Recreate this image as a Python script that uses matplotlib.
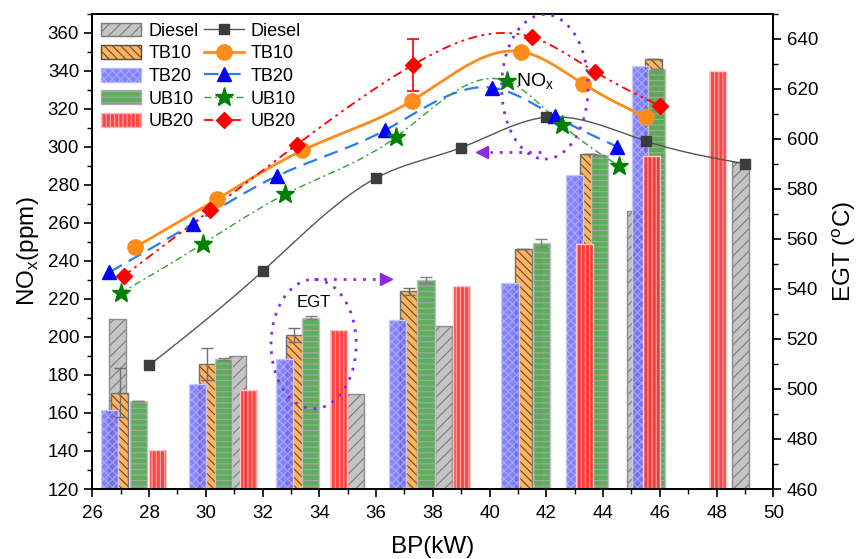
import numpy as np
import matplotlib
matplotlib.use("Agg")
import matplotlib.pyplot as plt
from matplotlib.patches import Patch, Ellipse
from matplotlib.lines import Line2D
from matplotlib.ticker import MultipleLocator

plt.rcParams['font.family'] = ['Liberation Sans', 'DejaVu Sans']
plt.rcParams['hatch.linewidth'] = 0.8

# ---- NOx (left axis), one BP set per fuel ----
bp_diesel = [28, 32, 36, 39, 42, 45.5, 49]
nox_diesel = [185, 234.5, 283.5, 299.5, 315.5, 303, 291]
bp_tb10 = [27.5, 30.4, 33.4, 37.25, 41.1, 43.3, 45.5]
nox_tb10 = [247, 272.5, 298, 324, 350, 333, 315.5]
bp_tb20 = [26.6, 29.55, 32.5, 36.3, 40.1, 42.3, 44.5]
nox_tb20 = [234, 259.5, 284.5, 308.5, 331, 316, 300]
bp_ub10 = [27, 29.9, 32.8, 36.7, 40.6, 42.55, 44.55]
nox_ub10 = [223, 249, 275, 305, 334.5, 311.5, 290]
bp_ub20 = [27.1, 30.15, 33.2, 37.3, 41.5, 43.7, 46]
nox_ub20 = [232, 266.5, 301, 343, 357.5, 339.5, 321.5]
nox_err_ub20 = [0, 0, 0, 13.5, 0, 0, 0]

# ---- EGT bars (right axis) ----
egt_bp_diesel = [26.9, 31.1, 35.27, 38.39, 41.52, 45.16, 48.85]
egt_diesel = [528, 513, 498, 525, 552, 571, 590.5]
egt_bp_tb10 = [26.96, 30.05, 33.12, 37.16, 41.18, 43.49, 45.77]
egt_tb10 = [498.5, 510, 521.5, 539, 556, 594, 632]
egt_err_tb10 = [9.7, 6.3, 2.7, 1.4, 0, 0, 0]
egt_bp_tb20 = [26.62, 29.71, 32.78, 36.74, 40.72, 43.01, 45.31]
egt_tb20 = [491.5, 502, 512, 527.5, 542.5, 585.5, 629]
egt_bp_ub10 = [27.62, 30.64, 33.7, 37.76, 41.82, 43.86, 45.89]
egt_ub10 = [495, 512, 528.5, 543.5, 558.5, 593.5, 628]
egt_err_ub10 = [0, 0.5, 0.6, 1.1, 1.6, 0, 0]
egt_bp_ub20 = [28.31, 31.51, 34.68, 39.02, 43.35, 45.71, 48.05]
egt_ub20 = [475.5, 499.5, 523.5, 541, 558, 593, 627]

labels = ["Diesel", "TB10", "TB20", "UB10", "UB20"]
PURPLE = "#8a2be2"


def spline(x, y, num=300):
    """Natural cubic spline through the points, for the smooth connecting line."""
    x = np.asarray(x, float); y = np.asarray(y, float)
    n = len(x); h = np.diff(x)
    A = np.zeros((n, n)); r = np.zeros(n)
    A[0, 0] = A[-1, -1] = 1
    for i in range(1, n - 1):
        A[i, i - 1] = h[i - 1]; A[i, i] = 2 * (h[i - 1] + h[i]); A[i, i + 1] = h[i]
        r[i] = 3 * ((y[i + 1] - y[i]) / h[i] - (y[i] - y[i - 1]) / h[i - 1])
    c = np.linalg.solve(A, r)
    b = (y[1:] - y[:-1]) / h - h * (2 * c[:-1] + c[1:]) / 3
    d = (c[1:] - c[:-1]) / (3 * h)
    xs = np.linspace(x[0], x[-1], num)
    idx = np.clip(np.searchsorted(x, xs) - 1, 0, n - 2)
    t = xs - x[idx]
    return xs, y[idx] + b[idx] * t + c[idx] * t ** 2 + d[idx] * t ** 3


fig = plt.figure(figsize=(8.58, 5.59), dpi=100)
ax = fig.add_axes([0.1076, 0.1252, 0.7937, 0.8506])
ax2 = ax.twinx()
ax.set_zorder(ax2.get_zorder() + 1)
ax.patch.set_visible(False)

# bar styles: (face, hatch, hatch colour, outline, alpha)
bar_styles = [
    ("#c4c4c4", "///", "#7a7a7a", "#8c8c8c", 1.0),
    ("#ffb35c", "\\\\\\\\", "#5a4a3a", "#707070", 1.0),
    ("#6464ff", "xxxx", "#b4b4ff", "#c8c8f0", 0.8),
    ("#55aa55", "---", "#a8a8a8", "#c0c0c0", 0.95),
    ("#ff3030", "||||", "#ffb4b4", "#ffc8c8", 0.9),
]
bar_x = [egt_bp_diesel, egt_bp_tb10, egt_bp_tb20, egt_bp_ub10, egt_bp_ub20]
bar_y = [egt_diesel, egt_tb10, egt_tb20, egt_ub10, egt_ub20]
W = 0.6
bar_handles = []
for (fc, hatch, hc, oc, a), bx, by, lab in zip(bar_styles, bar_x, bar_y, labels):
    h = np.array(by) - 460
    ax2.bar(bx, h, W, bottom=460, color=fc, hatch=hatch, edgecolor=hc, linewidth=0, alpha=a)
    ax2.bar(bx, h, W, bottom=460, fill=False, edgecolor=oc, linewidth=1.0)
    bar_handles.append(Patch(facecolor=fc, hatch=hatch, edgecolor=hc, alpha=a, label=lab))

ax2.errorbar(egt_bp_tb10, egt_tb10, yerr=egt_err_tb10, fmt="none", ecolor="#707070",
             elinewidth=1, capsize=4, capthick=1)
ax2.errorbar(egt_bp_ub10, egt_ub10, yerr=egt_err_ub10, fmt="none", ecolor="#808080",
             elinewidth=1, capsize=4, capthick=1)

# NOx lines
line_styles = [
    (bp_diesel, nox_diesel, "#555555", "-", 1.0, "s", "#3c3c3c", 7),
    (bp_tb10, nox_tb10, "#ff8c1a", "-", 2.0, "o", "#ff8c1a", 11),
    (bp_tb20, nox_tb20, "#2b7de9", (0, (6.5, 3.5)), 1.6, "^", "#0000ff", 9.5),
    (bp_ub10, nox_ub10, "#33a033", (0, (5, 2.5, 1.5, 2.5)), 1.0, "*", "#008000", 14),
    (bp_ub20, nox_ub20, "#ff0000", (0, (5, 2.5, 1.5, 2.5, 1.5, 2.5)), 1.3, "D", "#ff0000", 8.5),
]
line_handles = []
for (bx, ny, lc, ls, lw, mk, mc, ms), lab in zip(line_styles, labels):
    xs, ys = spline(bx, ny)
    ax.plot(xs, ys, color=lc, ls=ls, lw=lw, zorder=3)
    ax.plot(bx, ny, ls="none", marker=mk, color=mc, ms=ms, mec=mc, zorder=4)
    line_handles.append(Line2D([], [], color=lc, ls=ls, lw=lw, marker=mk, mfc=mc, mec=mc,
                               ms=ms, label=lab))

err_idx = [i for i, e in enumerate(nox_err_ub20) if e > 0]
ax.errorbar([bp_ub20[i] for i in err_idx], [nox_ub20[i] for i in err_idx],
            yerr=[nox_err_ub20[i] for i in err_idx], fmt="none", ecolor="#ff0000",
            elinewidth=1.2, capsize=4, capthick=1.2, zorder=3)

# call-outs
ax.add_patch(Ellipse((41.95, 331.5), 3.05, 76, fill=False, ls=(0, (1, 2.5)), lw=2,
                     edgecolor=PURPLE, zorder=5))
ax.text(41.6, 334, "NO$_\\mathregular{x}$", fontsize=14, ha="center", va="center", zorder=6)
ax.plot([41.8, 40.0], [297.2, 297.2], ls=(0, (1, 2.5)), lw=2, color=PURPLE, zorder=5)
ax.plot([39.75], [297.2], marker="<", ms=8, color=PURPLE, zorder=5)

ax.add_patch(Ellipse((33.8, 196.2), 3.0, 68, fill=False, ls=(0, (1, 2.5)), lw=2,
                     edgecolor=PURPLE, zorder=5))
ax.text(33.8, 218, "EGT", fontsize=12, ha="center", va="center", zorder=6)
ax.plot([33.8, 36.1], [230.3, 230.3], ls=(0, (1, 2.5)), lw=2, color=PURPLE, zorder=5)
ax.plot([36.35], [230.3], marker=">", ms=8, color=PURPLE, zorder=5)

# axes
ax.set_xlim(26, 50)
ax.set_ylim(120, 370)
ax2.set_ylim(460, 650)
ax.xaxis.set_major_locator(MultipleLocator(2))
ax.xaxis.set_minor_locator(MultipleLocator(1))
ax.yaxis.set_major_locator(MultipleLocator(20))
ax.yaxis.set_minor_locator(MultipleLocator(10))
ax2.yaxis.set_major_locator(MultipleLocator(20))
ax2.yaxis.set_minor_locator(MultipleLocator(10))
ax.set_yticks(np.arange(120, 361, 20))
ax2.set_yticks(np.arange(460, 641, 20))
for a in (ax, ax2):
    a.tick_params(which="major", direction="out", length=6, width=1.2, labelsize=13.5)
    a.tick_params(which="minor", direction="out", length=3.5, width=1.0)
    for s in a.spines.values():
        s.set_linewidth(1.3)
ax.tick_params(axis="x", pad=5.5)
ax.tick_params(axis="y", right=False, which="both")
ax.set_xlabel("BP(kW)", fontsize=17.5, labelpad=10)
ax.set_ylabel("NO$_\\mathregular{x}$(ppm)", fontsize=17.5, labelpad=5)
ax2.set_ylabel("EGT ($^\\mathregular{o}$C)", fontsize=17.5, labelpad=9)

ax.legend(bar_handles + line_handles, labels + labels, ncol=2, loc="upper left",
          frameon=False, fontsize=13, handlelength=2.2, handleheight=0.8,
          labelspacing=0.3, columnspacing=0.3, handletextpad=0.4,
          borderaxespad=0.2, borderpad=0.3)

fig.savefig("out.png", dpi=100)
